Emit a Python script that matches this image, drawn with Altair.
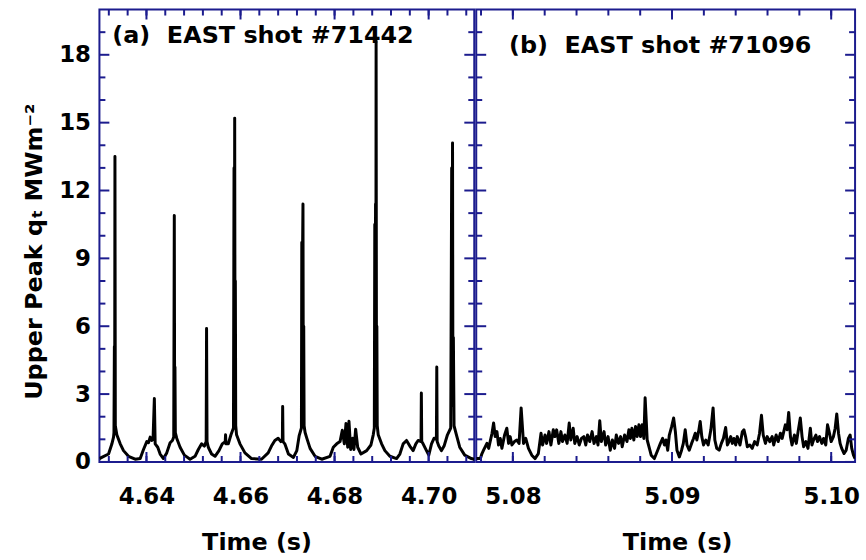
import altair as alt
import pandas as pd

# ---------------- data ----------------
t_a = [4.6300, 4.63194, 4.63264, 4.63300, 4.63309, 4.63318, 4.63324, 4.63330, 4.63338, 4.63370,
       4.63442, 4.63512, 4.63618, 4.63760, 4.63867, 4.63937, 4.64007, 4.64043, 4.64079, 4.64113,
       4.64140, 4.64168, 4.64185, 4.64240, 4.64291, 4.64361, 4.64431, 4.64503, 4.64552, 4.64580,
       4.64592, 4.64600, 4.64606, 4.64614, 4.64643, 4.64715, 4.64806, 4.64927, 4.65033, 4.65103,
       4.65173, 4.65231, 4.65270, 4.65278, 4.65288, 4.65315, 4.65385, 4.65458, 4.65542, 4.65612,
       4.65675, 4.65682, 4.65690, 4.65740, 4.65797, 4.65850, 4.65862, 4.65868, 4.65876, 4.65884,
       4.65890, 4.65898, 4.65916, 4.65988, 4.66094, 4.66234, 4.66446, 4.66588, 4.66658, 4.66730,
       4.66800, 4.66858, 4.66890, 4.66896, 4.66904, 4.66942, 4.67019, 4.67125, 4.67197, 4.67246,
       4.67295, 4.67303, 4.67312, 4.67320, 4.67328, 4.67336, 4.67344, 4.67352, 4.67373, 4.67409,
       4.67479, 4.67585, 4.67727, 4.67903, 4.67973, 4.68045, 4.68116, 4.68164, 4.68207, 4.68243,
       4.68279, 4.68306, 4.68342, 4.68385, 4.68412, 4.68448, 4.68491, 4.68561, 4.68682, 4.68773,
       4.68822, 4.68845, 4.68855, 4.68863, 4.68871, 4.68877, 4.68883, 4.68891, 4.68899, 4.68907,
       4.68928, 4.69000, 4.69070, 4.69176, 4.69318, 4.69388, 4.69458, 4.69530, 4.69600, 4.69670,
       4.69728, 4.69776, 4.69838, 4.69845, 4.69853, 4.69882, 4.69954, 4.70003, 4.70061, 4.70116,
       4.70165, 4.70173, 4.70181, 4.70216, 4.70273, 4.70328, 4.70400, 4.70470, 4.70490, 4.70498,
       4.70508, 4.70516, 4.70526, 4.70540, 4.70591, 4.70661, 4.70767, 4.70909, 4.70970]
q_a = [0.15, 0.35, 0.79, 1.1, 1.3, 5.1, 1.8, 13.5, 1.6, 1.2,
       0.8, 0.5, 0.25, 0.12, 0.15, 0.55, 0.9, 0.85, 1.1, 0.95,
       1.0, 2.8, 0.8, 0.65, 0.35, 0.15, 0.4, 0.85, 0.95, 1.1,
       10.9, 1.5, 4.2, 1.3, 1.05, 0.65, 0.3, 0.12, 0.25, 0.55,
       0.8, 0.7, 0.9, 5.9, 0.9, 0.65, 0.35, 0.25, 0.5, 0.8,
       0.9, 1.2, 0.8, 0.8, 1.2, 1.5, 13.0, 2.0, 15.2, 2.5,
       8.0, 1.6, 1.2, 0.8, 0.4, 0.15, 0.12, 0.4, 0.7, 0.95,
       1.05, 0.9, 1.0, 2.45, 0.9, 0.8, 0.35, 0.2, 0.5, 1.15,
       1.5, 9.7, 2.0, 9.5, 11.4, 2.0, 6.0, 1.6, 1.3, 1.05,
       0.6, 0.25, 0.12, 0.25, 0.65, 0.8, 0.9, 1.4, 0.8, 1.7,
       0.65, 1.8, 0.55, 1.05, 0.55, 1.45, 0.65, 0.35, 0.5, 0.75,
       1.2, 1.5, 10.5, 2.0, 11.4, 3.0, 18.6, 2.5, 6.0, 1.6,
       1.2, 0.8, 0.5, 0.25, 0.15, 0.35, 0.8, 0.95, 0.7, 0.5,
       0.8, 0.95, 0.9, 3.05, 0.9, 0.8, 0.5, 0.3, 0.8, 1.05,
       1.0, 4.2, 0.9, 0.7, 0.5, 0.7, 1.2, 1.5, 13.0, 2.5,
       14.1, 3.0, 5.5, 1.6, 1.2, 0.65, 0.3, 0.15, 0.12]

t_b = [5.07770, 5.07796, 5.07806, 5.07816, 5.07837, 5.07848, 5.07869, 5.07879, 5.07889, 5.07900,
       5.07910, 5.07921, 5.07931, 5.07948, 5.07962, 5.07973, 5.07983, 5.07994, 5.08010, 5.08025,
       5.08039, 5.08052, 5.08067, 5.08081, 5.08098, 5.08119, 5.08139, 5.08160, 5.08177, 5.08187,
       5.08202, 5.08212, 5.08227, 5.08239, 5.08254, 5.08264, 5.08275, 5.08289, 5.08302, 5.08312,
       5.08327, 5.08341, 5.08354, 5.08364, 5.08379, 5.08389, 5.08404, 5.08417, 5.08431, 5.08446,
       5.08458, 5.08469, 5.08483, 5.08498, 5.08510, 5.08525, 5.08535, 5.08546, 5.08556, 5.08573,
       5.08583, 5.08598, 5.08612, 5.08625, 5.08639, 5.08650, 5.08664, 5.08677, 5.08687, 5.08702,
       5.08717, 5.08729, 5.08739, 5.08748, 5.08760, 5.08771, 5.08781, 5.08792, 5.08802, 5.08812,
       5.08823, 5.08831, 5.08844, 5.08858, 5.08869, 5.08889, 5.08910, 5.08927, 5.08941, 5.08952,
       5.08962, 5.08973, 5.08983, 5.08998, 5.09010, 5.09021, 5.09031, 5.09046, 5.09060, 5.09071,
       5.09083, 5.09094, 5.09108, 5.09123, 5.09135, 5.09146, 5.09156, 5.09167, 5.09177, 5.09187,
       5.09198, 5.09212, 5.09227, 5.09244, 5.09258, 5.09269, 5.09281, 5.09296, 5.09310, 5.09323,
       5.09337, 5.09348, 5.09358, 5.09369, 5.09379, 5.09389, 5.09400, 5.09410, 5.09427, 5.09442,
       5.09452, 5.09462, 5.09473, 5.09489, 5.09504, 5.09519, 5.09535, 5.09550, 5.09562, 5.09573,
       5.09587, 5.09598, 5.09614, 5.09629, 5.09639, 5.09654, 5.09667, 5.09681, 5.09692, 5.09702,
       5.09712, 5.09723, 5.09733, 5.09744, 5.09754, 5.09769, 5.09781, 5.09792, 5.09806, 5.09817,
       5.09827, 5.09841, 5.09854, 5.09869, 5.09879, 5.09889, 5.09904, 5.09914, 5.09927, 5.09941,
       5.09952, 5.09966, 5.09977, 5.09987, 5.10000, 5.10014, 5.10025, 5.10035, 5.10046, 5.10056,
       5.10066, 5.10081, 5.10094, 5.10108, 5.10119, 5.10129, 5.10140, 5.10150]
q_b = [0.15, 0.15, 0.37, 0.52, 0.82, 0.60, 1.27, 1.72, 1.12, 1.34,
       0.75, 1.04, 0.60, 1.19, 1.49, 0.82, 1.12, 0.75, 0.90, 0.97,
       0.82, 2.39, 0.82, 1.04, 0.60, 0.30, 0.15, 0.37, 1.27, 0.75,
       1.19, 0.82, 1.34, 0.75, 1.42, 1.12, 1.42, 0.82, 1.34, 0.90,
       1.19, 0.82, 1.72, 0.97, 1.49, 0.82, 1.12, 0.75, 1.04, 1.12,
       0.75, 1.19, 0.90, 1.34, 0.82, 1.12, 0.75, 1.82, 0.90, 1.34,
       0.75, 1.12, 0.52, 0.97, 0.60, 1.19, 0.82, 1.12, 0.67, 1.19,
       0.90, 1.42, 1.04, 1.49, 0.97, 1.57, 1.12, 1.64, 1.12, 1.64,
       1.04, 2.84, 0.97, 0.60, 0.30, 0.15, 0.52, 0.82, 1.04, 0.75,
       0.97, 0.52, 1.19, 1.57, 1.94, 1.34, 0.52, 0.22, 0.52, 0.82,
       1.42, 0.75, 0.52, 0.82, 1.04, 1.27, 0.97, 1.34, 1.79, 1.12,
       0.75, 0.97, 0.75, 1.42, 2.39, 0.97, 0.60, 0.52, 0.82, 1.04,
       1.52, 0.75, 0.90, 1.12, 0.82, 1.04, 0.75, 1.12, 0.75, 1.34,
       1.42, 1.12, 0.67, 0.75, 0.60, 0.90, 0.75, 1.27, 2.06, 1.19,
       0.82, 1.12, 0.90, 1.12, 0.75, 1.19, 0.90, 1.27, 1.04, 1.34,
       1.64, 1.42, 2.19, 1.12, 0.75, 1.19, 0.82, 1.34, 1.94, 1.12,
       0.67, 0.90, 0.60, 1.49, 0.75, 0.97, 1.19, 0.90, 1.12, 0.82,
       1.04, 0.75, 1.64, 1.34, 0.90, 1.12, 1.49, 2.12, 1.27, 0.82,
       0.60, 0.37, 0.52, 1.04, 1.19, 0.60, 0.30, 0.15]

xa_major = [4.64, 4.66, 4.68, 4.70]
xa_minor = [4.632, 4.636, 4.640, 4.644, 4.648, 4.652, 4.656, 4.660, 4.664, 4.668,
            4.672, 4.676, 4.680, 4.684, 4.688, 4.692, 4.696, 4.700, 4.704, 4.708]
xb_major = [5.08, 5.09, 5.10]
xb_minor = [5.078, 5.080, 5.082, 5.084, 5.086, 5.088, 5.090, 5.092, 5.094, 5.096, 5.098, 5.100]
y_major = [0, 3, 6, 9, 12, 15, 18]
y_minor = [1, 2, 4, 5, 7, 8, 10, 11, 13, 14, 16, 17, 19]

panel_labels = ["(a)\u00a0\u00a0EAST shot #71442", "(b)\u00a0\u00a0EAST shot #71096"]
x_title = "Time (s)"
y_title = "Upper Peak q\u209c MWm\u207b\u00b2"

# ---------------- style ----------------
NAVY = "#1c1c8e"
FONT = "DejaVu Sans"
H = 455
WA = 377
WB = 381
MAJ = 10
MIN = 6


def panel(t, q, xdom, xmajor, xminor, width, label, lx, ly, show_y, title_x):
    xs = alt.Scale(domain=xdom, nice=False, zero=False)
    ys = alt.Scale(domain=[0, 20], nice=False)
    xaxis = alt.Axis(values=xmajor, format=".2f", title=x_title, grid=False, domain=False,
                     ticks=False, tickSize=0, labelFont=FONT, labelFontSize=23,
                     labelFontWeight="bold", labelColor="black", labelBaseline="top",
                     labelPadding=24, labelFlush=False, labelOverlap=False,
                     titleFont=FONT, titleFontSize=24, titleFontWeight="bold",
                     titleColor="black", titleX=title_x, titleY=88,
                     titleBaseline="alphabetic", titleAlign="center")
    if show_y:
        yaxis = alt.Axis(values=y_major, format="d", title=y_title, grid=False, domain=False,
                         ticks=False, tickSize=0, labelFont=FONT, labelFontSize=23,
                         labelFontWeight="bold", labelColor="black", labelPadding=9,
                         labelBaseline="middle", labelFlush=False, labelOverlap=False,
                         titleFont=FONT, titleFontSize=24, titleFontWeight="bold",
                         titleColor="black", titleAngle=270, titleX=-58, titleY=243,
                         titleBaseline="alphabetic", titleAlign="center")
    else:
        yaxis = None

    df = pd.DataFrame({"t": t, "q": q})
    line = alt.Chart(df).mark_line(color="black", strokeWidth=3, clip=True,
                                   strokeJoin="round").encode(
        x=alt.X("t:Q", scale=xs, axis=xaxis),
        y=alt.Y("q:Q", scale=ys, axis=yaxis))

    def xticks(vals, top, length):
        d = pd.DataFrame({"v": vals})
        y0, y1 = (0, length) if top else (H, H - length)
        return alt.Chart(d).mark_rule(color=NAVY, strokeWidth=2).encode(
            x=alt.X("v:Q", scale=xs, axis=None), y=alt.value(y0), y2=alt.value(y1))

    def yticks(vals, right, length):
        d = pd.DataFrame({"v": vals})
        x0, x1 = (width, width - length) if right else (0, length)
        return alt.Chart(d).mark_rule(color=NAVY, strokeWidth=2).encode(
            y=alt.Y("v:Q", scale=ys, axis=None), x=alt.value(x0), x2=alt.value(x1))

    ticks = [
        xticks(xminor, False, MIN), xticks(xmajor, False, MAJ),
        xticks(xminor, True, MIN), xticks(xmajor, True, MAJ),
        yticks(y_minor, False, MIN), yticks(y_major, False, MAJ),
        yticks(y_minor, True, MIN), yticks(y_major, True, MAJ),
    ]

    txt = alt.Chart(pd.DataFrame({"s": [label]})).mark_text(
        align="left", baseline="alphabetic", font=FONT, fontSize=24,
        fontWeight="bold", color="black").encode(
        x=alt.value(lx), y=alt.value(ly), text="s:N")

    return alt.layer(line, *ticks, txt).resolve_axis(
        x="independent", y="independent").properties(width=width, height=H)


left = panel(t_a, q_a, [4.630, 4.7097], xa_major, xa_minor, WA, panel_labels[0],
             13, 34, True, 158)
right = panel(t_b, q_b, [5.0777, 5.1015], xb_major, xb_minor, WB, panel_labels[1],
              33, 44, False, 202)

chart = alt.hconcat(left, right, spacing=-4).properties(
    padding={"left": 21, "top": 6, "right": 5, "bottom": 0},
    background="white",
).configure(font=FONT).configure_view(stroke=NAVY, strokeWidth=2)

chart.save("out.html", embed_options={"renderer": "svg", "actions": False})
